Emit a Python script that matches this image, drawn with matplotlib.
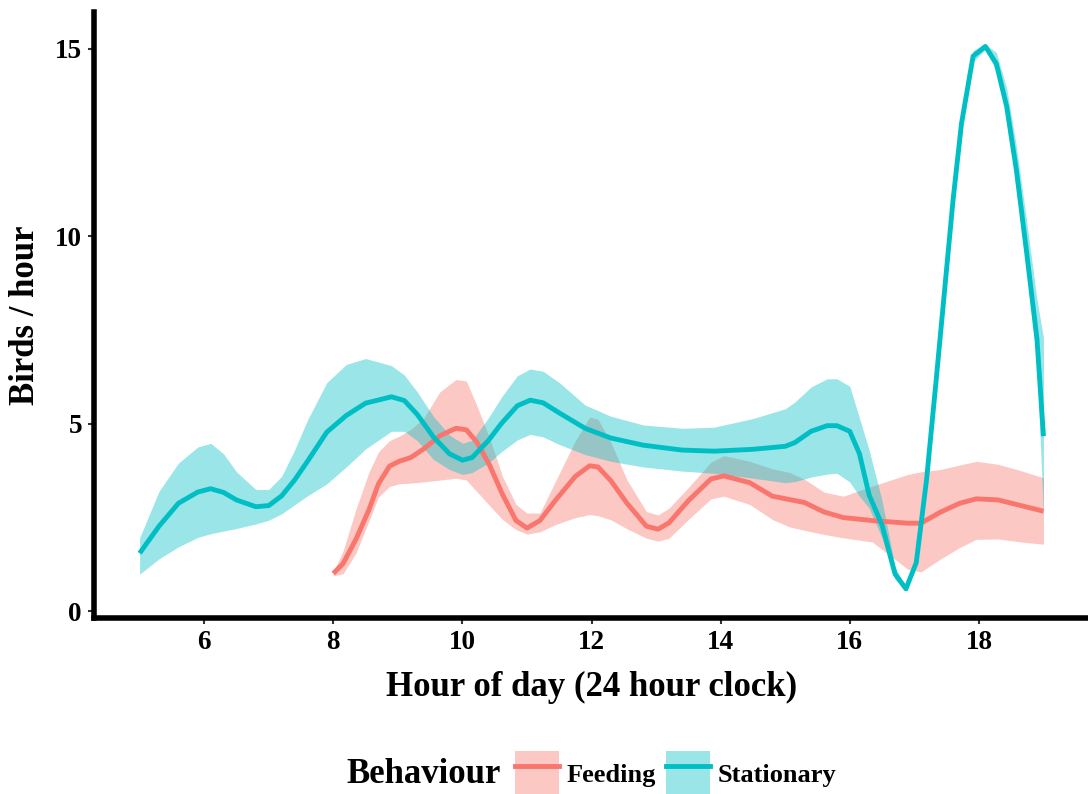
import matplotlib
matplotlib.use("Agg")
import matplotlib.pyplot as plt
from matplotlib.patches import Patch
from matplotlib.lines import Line2D

plt.rcParams['font.family'] = ['Liberation Serif', 'DejaVu Serif']
plt.rcParams['font.weight'] = 'bold'

FEED_COLOR = '#F8766D'
STAT_COLOR = '#00BFC4'
BAND_ALPHA = 0.4

# Stationary: smoothed rate with confidence band
stat_hour = [5.0, 5.3, 5.6, 5.9, 6.1, 6.3, 6.5, 6.8, 7.0, 7.2, 7.4, 7.6, 7.9, 8.2, 8.5,
             8.9, 9.1, 9.3, 9.55, 9.8, 10.0, 10.15, 10.4, 10.6, 10.85, 11.05, 11.25, 11.5,
             11.9, 12.3, 12.8, 13.4, 13.9, 14.5, 15.0, 15.15, 15.4, 15.65, 15.8, 16.0,
             16.15, 16.3, 16.5, 16.7, 16.87, 17.03, 17.19, 17.34, 17.46, 17.6, 17.73,
             17.91, 18.1, 18.27, 18.43, 18.58, 18.74, 18.9, 19.0]
stat_rate = [1.55, 2.27, 2.88, 3.18, 3.27, 3.17, 2.97, 2.79, 2.82, 3.08, 3.5, 4.0, 4.78, 5.22, 5.55,
             5.72, 5.62, 5.25, 4.65, 4.2, 4.03, 4.1, 4.55, 5.0, 5.48, 5.63, 5.56, 5.29,
             4.88, 4.62, 4.43, 4.3, 4.27, 4.32, 4.4, 4.5, 4.8, 4.95, 4.95, 4.8,
             4.2, 3.1, 2.3, 1.0, 0.6, 1.3, 3.52, 6.2, 8.4, 10.97, 13.0,
             14.8, 15.06, 14.6, 13.46, 11.77, 9.56, 7.25, 4.67]
stat_upper = [1.96, 3.2, 3.95, 4.38, 4.48, 4.2, 3.72, 3.25, 3.25, 3.6, 4.3, 5.1, 6.1, 6.58, 6.74,
              6.55, 6.3, 5.85, 5.2, 4.7, 4.48, 4.56, 5.15, 5.7, 6.28, 6.46, 6.4, 6.1,
              5.5, 5.2, 4.97, 4.88, 4.91, 5.14, 5.4, 5.58, 5.98, 6.2, 6.2, 6.0,
              5.15, 4.3, 2.95, 1.2, 0.62, 1.35, 3.65, 6.35, 8.6, 11.2, 13.2,
              14.95, 15.12, 14.9, 13.95, 12.4, 10.4, 8.3, 7.3]
stat_lower = [0.99, 1.4, 1.72, 1.97, 2.07, 2.14, 2.21, 2.33, 2.43, 2.6, 2.84, 3.08, 3.4, 3.85, 4.33,
              4.8, 4.8, 4.55, 4.05, 3.78, 3.65, 3.7, 3.95, 4.25, 4.57, 4.72, 4.65, 4.45,
              4.18, 4.0, 3.85, 3.74, 3.68, 3.55, 3.43, 3.46, 3.58, 3.66, 3.68, 3.45,
              3.07, 2.75, 1.95, 0.85, 0.55, 1.2, 3.35, 6.05, 8.2, 10.75, 12.8,
              14.65, 14.98, 14.4, 13.2, 11.5, 9.1, 6.6, 2.55]

# Feeding
feed_hour = [8.0, 8.15, 8.35, 8.55, 8.7, 8.87, 9.02, 9.2, 9.4, 9.65, 9.9, 10.06, 10.22, 10.42,
             10.62, 10.83, 11.0, 11.2, 11.45, 11.75, 11.97, 12.1, 12.3, 12.55, 12.85, 13.03,
             13.2, 13.5, 13.85, 14.05, 14.45, 14.8, 15.07, 15.3, 15.6, 15.9, 16.35, 16.9,
             17.1, 17.4, 17.7, 17.96, 18.3, 18.65, 19.0]
feed_rate = [1.01, 1.27, 1.92, 2.7, 3.4, 3.87, 4.0, 4.1, 4.33, 4.68, 4.88, 4.84, 4.52, 3.9,
             3.12, 2.42, 2.22, 2.42, 2.98, 3.6, 3.88, 3.85, 3.48, 2.88, 2.27, 2.19,
             2.36, 2.95, 3.53, 3.61, 3.43, 3.07, 2.98, 2.9, 2.65, 2.5, 2.42, 2.35,
             2.35, 2.64, 2.88, 3.0, 2.97, 2.82, 2.67]
feed_upper = [1.05, 1.6, 2.72, 3.7, 4.25, 4.55, 4.67, 4.85, 5.15, 5.85, 6.18, 6.14, 5.5, 4.62,
              3.6, 2.85, 2.62, 2.62, 3.5, 4.55, 5.18, 5.12, 4.5, 3.5, 2.66, 2.57,
              2.75, 3.3, 3.98, 4.15, 4.0, 3.8, 3.7, 3.52, 3.18, 3.07, 3.34, 3.65,
              3.72, 3.78, 3.9, 4.0, 3.92, 3.75, 3.56]
feed_lower = [0.95, 1.0, 1.55, 2.4, 3.05, 3.33, 3.4, 3.42, 3.45, 3.5, 3.55, 3.5, 3.2, 2.82,
              2.45, 2.18, 2.06, 2.12, 2.32, 2.5, 2.58, 2.55, 2.44, 2.2, 1.95, 1.87,
              1.95, 2.45, 3.0, 3.07, 2.85, 2.45, 2.25, 2.16, 2.05, 1.96, 1.85, 1.12,
              1.05, 1.39, 1.7, 1.92, 1.93, 1.85, 1.79]

x_ticks = [6, 8, 10, 12, 14, 16, 18]
y_ticks = [0, 5, 10, 15]

fig = plt.figure(figsize=(10.88, 7.94), dpi=100, facecolor='white')
ax = fig.add_axes([0.0868, 0.222, 0.9132, 0.763])

ax.fill_between(feed_hour, feed_lower, feed_upper, color=FEED_COLOR, alpha=BAND_ALPHA, lw=0)
ax.fill_between(stat_hour, stat_lower, stat_upper, color=STAT_COLOR, alpha=BAND_ALPHA, lw=0)
ax.plot(feed_hour, feed_rate, color=FEED_COLOR, lw=3.5, solid_capstyle='butt')
ax.plot(stat_hour, stat_rate, color=STAT_COLOR, lw=3.5, solid_capstyle='butt')

ax.set_xlim(4.3, 19.69)
ax.set_ylim(-0.17, 15.98)
ax.set_xticks(x_ticks)
ax.set_yticks(y_ticks)
ax.tick_params(direction='out', length=4, width=1.5, color='#333333',
               labelsize=19.5, labelcolor='black', pad=5)
for lab in ax.get_xticklabels() + ax.get_yticklabels():
    lab.set_fontweight('bold')

for side in ['top', 'right']:
    ax.spines[side].set_visible(False)
for side in ['left', 'bottom']:
    ax.spines[side].set_linewidth(4)
    ax.spines[side].set_color('black')
    ax.spines[side].set_capstyle('projecting')

ax.set_xlabel('Hour of day (24 hour clock)', fontsize=25, fontweight='bold', labelpad=11)
ax.set_ylabel('Birds / hour', fontsize=25, fontweight='bold', labelpad=9)

handles = [(Patch(facecolor=FEED_COLOR, alpha=BAND_ALPHA, lw=0), Line2D([], [], color=FEED_COLOR, lw=3.5)),
           (Patch(facecolor=STAT_COLOR, alpha=BAND_ALPHA, lw=0), Line2D([], [], color=STAT_COLOR, lw=3.5))]
fig.legend(handles, ['Feeding', 'Stationary'], ncol=2, frameon=False,
           loc='center', bbox_to_anchor=(0.621, 0.026),
           prop={'size': 19, 'weight': 'bold'},
           handlelength=1.67, handleheight=2.2, handletextpad=0.3, columnspacing=0.38,
           borderpad=0)
fig.text(0.389, 0.024, 'Behaviour', fontsize=25, fontweight='bold', ha='center', va='center')

fig.savefig('out.png', dpi=100, facecolor='white')
